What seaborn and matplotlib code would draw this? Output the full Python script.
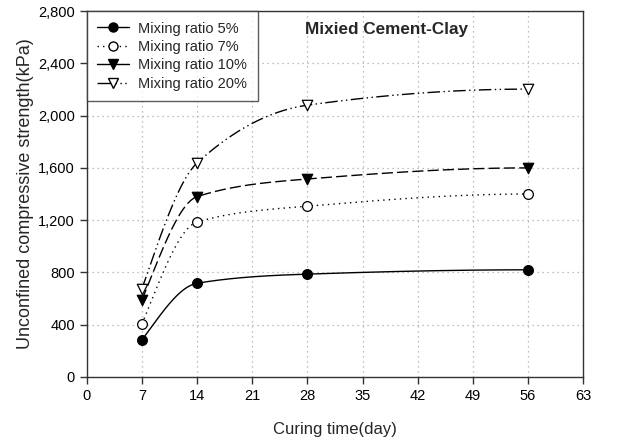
import numpy as np
import pandas as pd
import matplotlib
matplotlib.use("Agg")
import matplotlib.pyplot as plt
from matplotlib.lines import Line2D
import seaborn as sns

# Curing time (days) and unconfined compressive strength (kPa)
days = [7, 14, 28, 56]
ratio_5 = [283, 717, 787, 820]
ratio_7 = [405, 1186, 1307, 1400]
ratio_10 = [589, 1380, 1515, 1600]
ratio_20 = [675, 1638, 2080, 2203]
labels = ["Mixing ratio 5%", "Mixing ratio 7%", "Mixing ratio 10%", "Mixing ratio 20%"]
x_ticks = list(range(0, 64, 7))
y_ticks = list(range(0, 2801, 400))


def pchip(x, y, xs):
    """Monotone cubic (Fritsch-Carlson) curve through the measured points."""
    x = np.asarray(x, float)
    y = np.asarray(y, float)
    h = np.diff(x)
    d = np.diff(y) / h
    m = np.zeros_like(y)
    for k in range(1, len(x) - 1):
        if d[k - 1] * d[k] > 0:
            w1 = 2 * h[k] + h[k - 1]
            w2 = h[k] + 2 * h[k - 1]
            m[k] = (w1 + w2) / (w1 / d[k - 1] + w2 / d[k])
    m[0] = ((2 * h[0] + h[1]) * d[0] - h[0] * d[1]) / (h[0] + h[1])
    if np.sign(m[0]) != np.sign(d[0]):
        m[0] = 0
    m[-1] = ((2 * h[-1] + h[-2]) * d[-1] - h[-1] * d[-2]) / (h[-1] + h[-2])
    if np.sign(m[-1]) != np.sign(d[-1]):
        m[-1] = 0
    idx = np.clip(np.searchsorted(x, xs) - 1, 0, len(x) - 2)
    t = (xs - x[idx]) / h[idx]
    h00 = 2 * t**3 - 3 * t**2 + 1
    h10 = t**3 - 2 * t**2 + t
    h01 = -2 * t**3 + 3 * t**2
    h11 = t**3 - t**2
    return (h00 * y[idx] + h10 * h[idx] * m[idx]
            + h01 * y[idx + 1] + h11 * h[idx] * m[idx + 1])


sns.set_style("ticks")
plt.rcParams["font.family"] = ["Liberation Sans", "DejaVu Sans"]

fig = plt.figure(figsize=(6.29, 4.44), dpi=100)
ax = fig.add_axes([0.138, 0.151, 0.789, 0.824])

series = [ratio_5, ratio_7, ratio_10, ratio_20]
styles = [
    dict(dashes=None, leg_dashes=None, marker="o", mfc="black", ms=7, lms=6.5),
    dict(dashes=(1, 3), leg_dashes=(1, 3), marker="o", mfc="white", ms=7, lms=6.5),
    dict(dashes=(8, 3), leg_dashes=None, marker="v", mfc="black", ms=7.5, lms=7),
    dict(dashes=(9, 2.5, 1, 2.5, 1, 2.5), leg_dashes=(14, 2.5, 1, 2.5, 1, 2.5),
         marker="v", mfc="white", ms=7.5, lms=7),
]

xs = np.linspace(days[0], days[-1], 300)
handles = []
for vals, st, lab in zip(series, styles, labels):
    curve = pd.DataFrame({"day": xs, "kPa": pchip(days, vals, xs)})
    sns.lineplot(data=curve, x="day", y="kPa", ax=ax, color="black",
                 lw=1.0, estimator=None, sort=False)
    line = ax.get_lines()[-1]
    if st["dashes"] is not None:
        line.set_dashes(st["dashes"])
    pts = pd.DataFrame({"day": days, "kPa": vals})
    sns.scatterplot(data=pts, x="day", y="kPa", ax=ax, marker=st["marker"],
                    s=st["ms"] ** 2, facecolor=st["mfc"], edgecolor="black",
                    linewidth=0.9, zorder=5)
    h = Line2D([], [], color="black", lw=1.0, marker=st["marker"],
               markersize=st["lms"], markerfacecolor=st["mfc"],
               markeredgecolor="black")
    if st["leg_dashes"] is not None:
        h.set_dashes(st["leg_dashes"])
    handles.append(h)

ax.set_xlim(0, 63)
ax.set_ylim(0, 2800)
ax.set_xticks(x_ticks)
ax.set_yticks(y_ticks)
ax.set_yticklabels([f"{v:,}" for v in y_ticks])
ax.grid(True, color="#aaaaaa", linestyle=(0, (1, 3)), linewidth=0.9)
ax.set_axisbelow(True)
for s in ax.spines.values():
    s.set_color("#333333")
    s.set_linewidth(1.0)
ax.tick_params(direction="out", length=5, width=1, colors="#333333",
               labelcolor="black", labelsize=10.5, top=False, right=False)

ax.set_xlabel("Curing time(day)", fontsize=12, labelpad=14)
ax.set_ylabel("Unconfined compressive strength(kPa)", fontsize=13, labelpad=3)
ax.text(38.0, 2660, "Mixied Cement-Clay", ha="center", va="center",
        fontsize=12.3, fontweight="bold")

leg = ax.legend(handles, labels, loc="upper left", bbox_to_anchor=(0, 1),
                frameon=True, fancybox=False, fontsize=10.5, handlelength=2.2,
                borderaxespad=0, borderpad=0.72, labelspacing=0.3,
                handletextpad=0.6)
leg.get_frame().set_edgecolor("#333333")
leg.get_frame().set_linewidth(1.0)

fig.savefig("out.png", dpi=100)
